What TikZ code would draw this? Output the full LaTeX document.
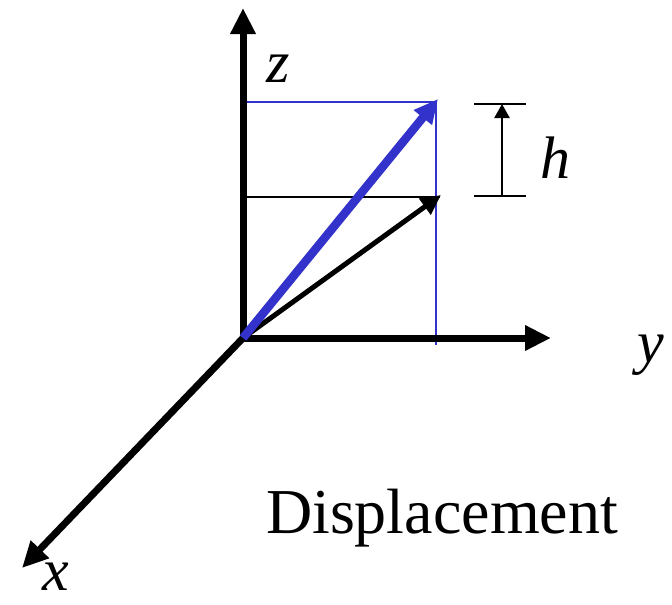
\documentclass[tikz,border=0pt]{standalone}
\usepackage{fontspec}
\setmainfont{Liberation Serif}
\usetikzlibrary{arrows.meta}
\definecolor{vecblue}{RGB}{51, 51, 204}

\begin{document}
\begin{tikzpicture}[
    x=1pt, y=-1pt,
    axis/.style={line width=7pt, -{Triangle[length=26pt, width=24pt]}},
    oldvec/.style={line width=5pt, -{Triangle[length=20pt, width=19pt]}},
    newvec/.style={vecblue, line width=8.5pt, -{Triangle[length=24pt, width=22pt]}},
    guide/.style={line width=2pt},
    bguide/.style={vecblue, line width=1.6pt},
    hmark/.style={line width=2.5pt, -{Triangle[length=14pt, width=15pt]}},
    lab/.style={font=\fontsize{60}{70}\selectfont\itshape, anchor=base, inner sep=0pt},
    title/.style={font=\fontsize{64}{74}\selectfont, anchor=base, inner sep=0pt}
]
\useasboundingbox (0,0) rectangle (672,605);

% axes
\coordinate (O) at (243,338);
\coordinate (ztip) at (243,8);
\coordinate (ytip) at (551,338);
\coordinate (xtip) at (22,568);

% vectors
\coordinate (P) at (441,195);
\coordinate (Q) at (438,99);
\coordinate (Pz) at (243,197);
\coordinate (Qz) at (243,102);
\coordinate (Qy) at (436,345);
\coordinate (Qc) at (436,102);

% h marker
\coordinate (hlo) at (502,196);
\coordinate (hhi) at (502,104);

\draw[guide] (Pz) -- (440,197);
\draw[bguide] (Qz) -- (Qc) -- (Qy);

\draw[axis] (O) -- (ztip);
\draw[axis] (O) -- (ytip);
\draw[axis] (O) -- (xtip);

\draw[oldvec] (O) -- (P);
\draw[newvec] (O) -- (Q);

\draw[guide] ([xshift=-28pt]hlo) -- ([xshift=24pt]hlo);
\draw[guide] ([xshift=-28pt]hhi) -- ([xshift=24pt]hhi);
\draw[hmark] (hlo) -- (hhi);

\node[lab] (zlab) at (278,82) {z};
\node[lab] (ylab) at (651,362) {y};
\node[lab] (xlab) at (56,590) {x};
\node[lab] (hlab) at (555,178) {h};
\node[title] (name) at (442,533) {Displacement};

\end{tikzpicture}
\end{document}
